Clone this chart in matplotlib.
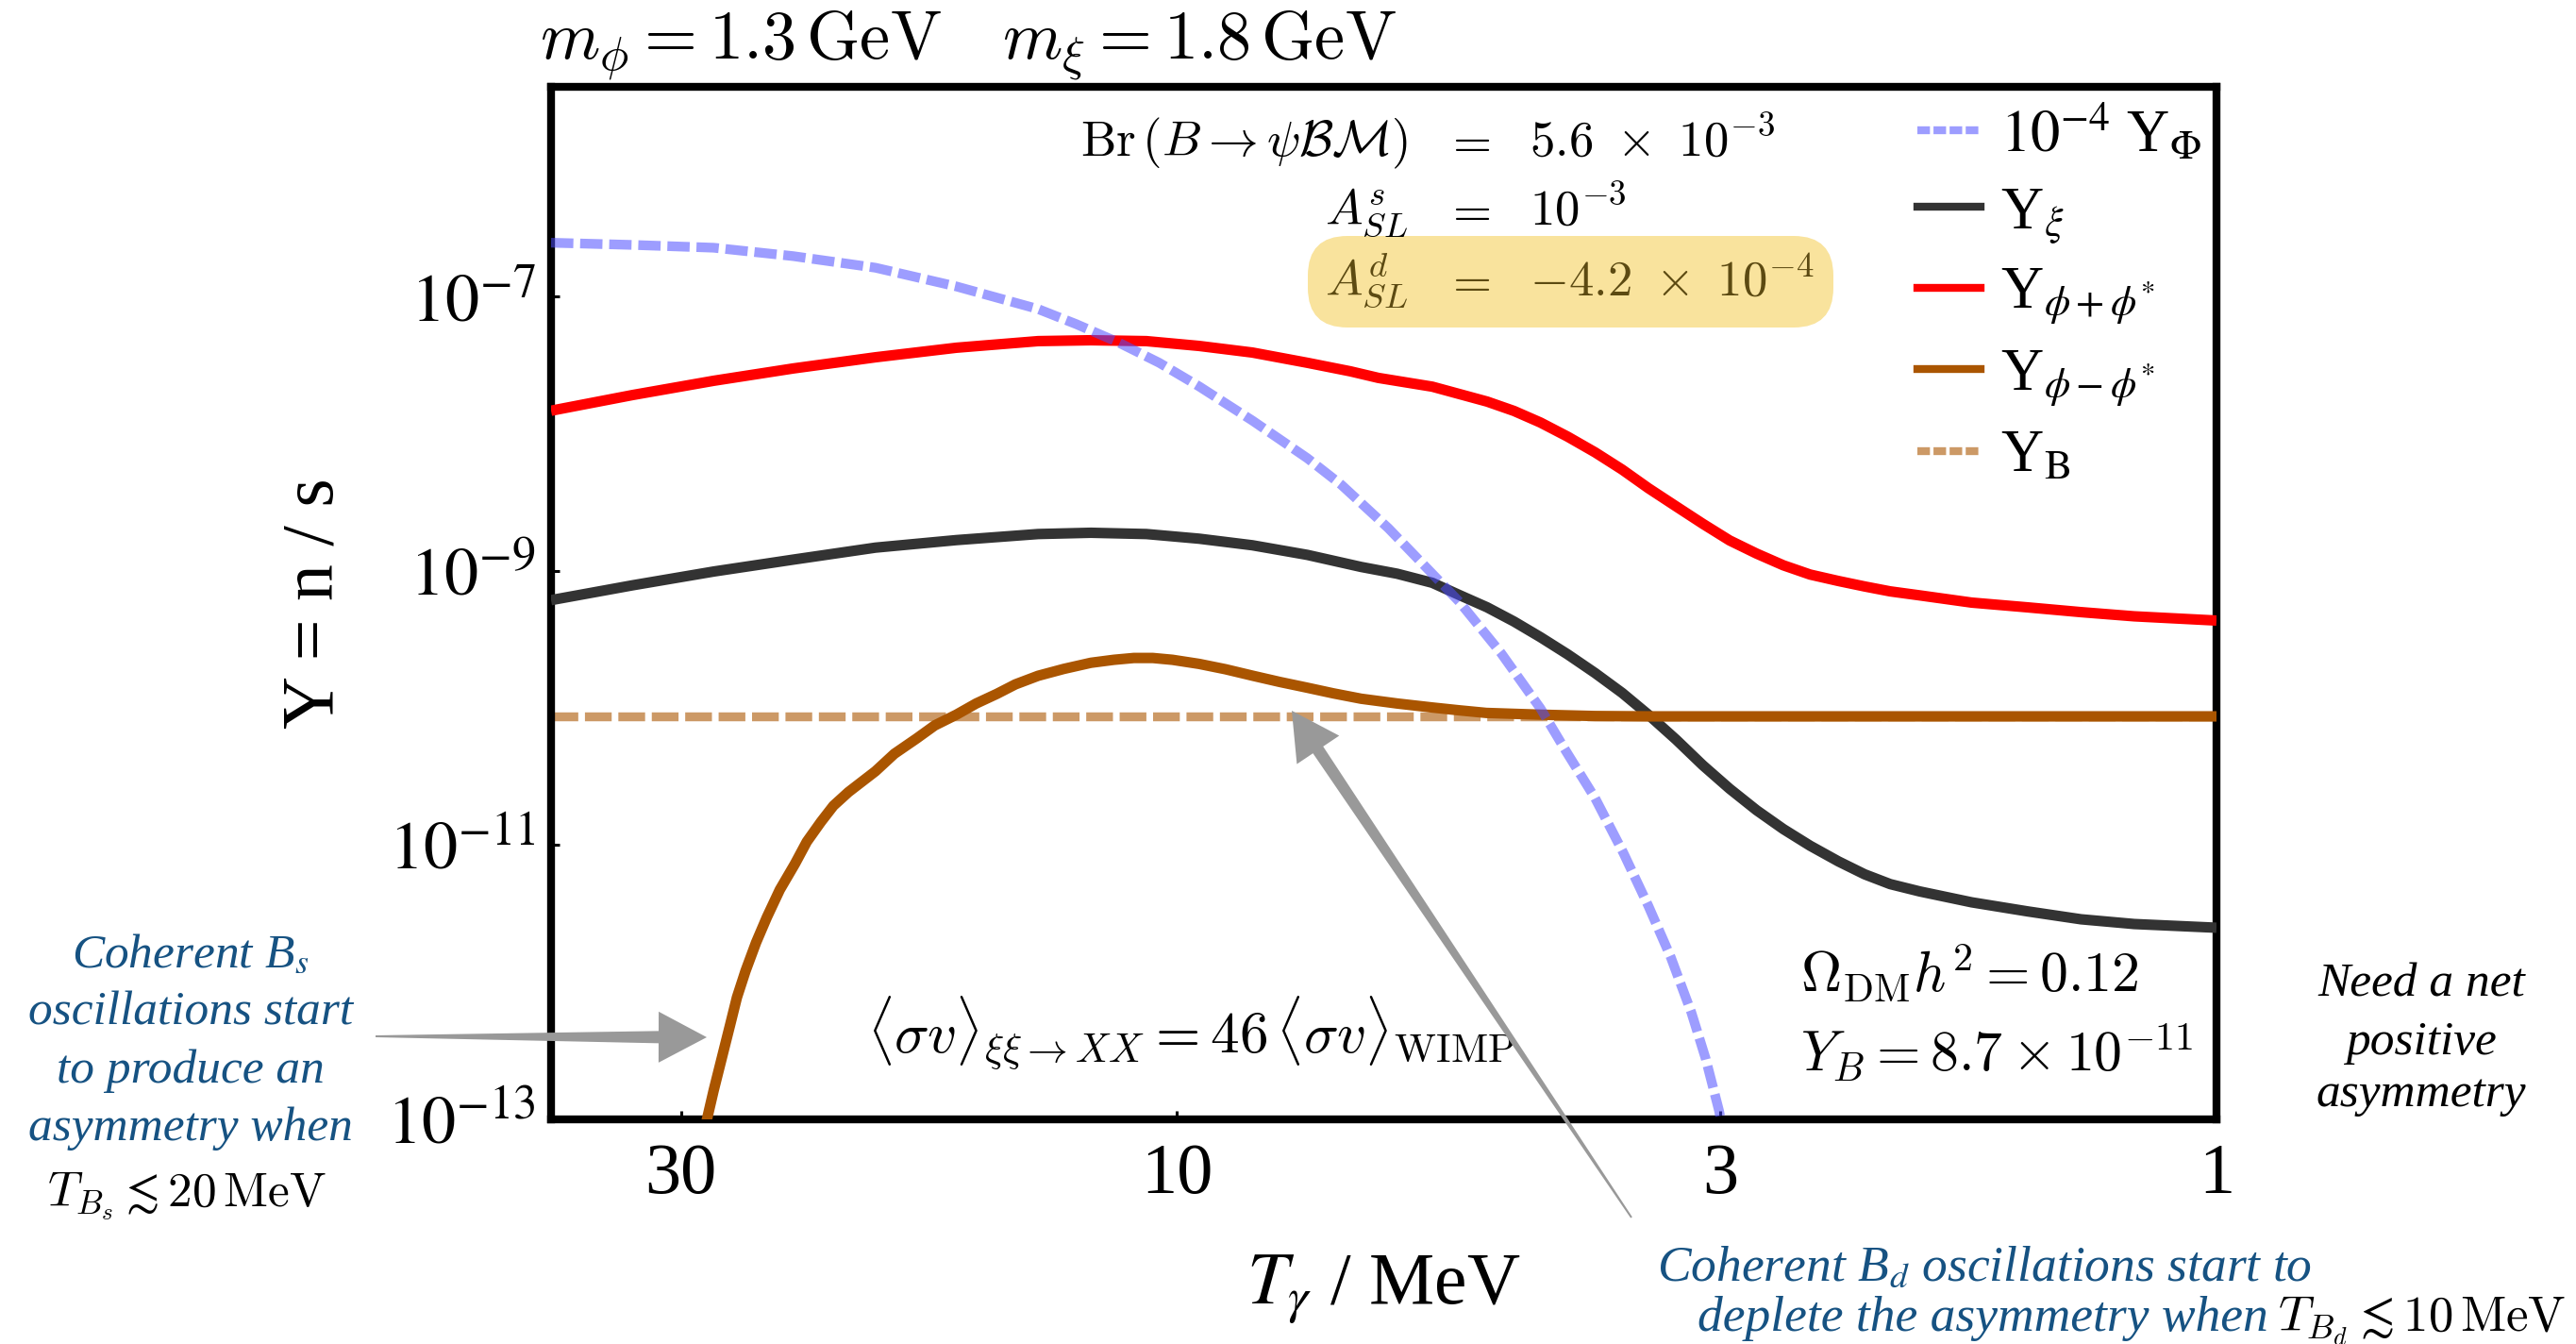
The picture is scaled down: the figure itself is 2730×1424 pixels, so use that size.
import matplotlib
matplotlib.use("Agg")
import matplotlib.pyplot as plt
from matplotlib.transforms import Affine2D
from matplotlib.patches import Polygon, FancyBboxPatch
from matplotlib.ticker import FixedLocator, FixedFormatter, NullLocator
from matplotlib.lines import Line2D
import numpy as np

# ---------------- data ----------------
# 10^-4 * Y_Phi
T_phi = [40.0, 33.4, 27.9, 23.4, 19.5, 16.3, 13.6, 12.5, 11.4, 10.4, 9.52, 8.46, 7.49,
         6.95, 6.26, 5.35, 4.88, 4.47, 4.22, 3.96, 3.72, 3.52, 3.35, 3.20, 3.10, 3.01, 2.985]
Y_phi = [2.48e-7, 2.39e-7, 2.28e-7, 1.98e-7, 1.63e-7, 1.19e-7, 8.14e-8, 6.32e-8, 4.67e-8,
         3.30e-8, 2.22e-8, 1.25e-8, 6.64e-9, 4.26e-9, 2.05e-9, 5.96e-10, 2.53e-10, 9.94e-11,
         4.79e-11, 2.20e-11, 8.78e-12, 3.61e-12, 1.53e-12, 6.02e-13, 2.77e-13, 1.16e-13, 8.4e-14]

# Y_xi
T_xi = [40.0, 33.4, 27.9, 23.4, 19.5, 16.3, 13.6, 12.1, 10.7, 9.52, 8.46, 7.49, 6.65, 6.14,
        5.68, 5.35, 5.03, 4.74, 4.47, 4.21, 3.96, 3.73, 3.52, 3.31, 3.12, 2.94, 2.77, 2.61,
        2.46, 2.31, 2.18, 2.06, 1.93, 1.72, 1.52, 1.35, 1.20, 1.0]
Y_xi = [6.13e-10, 7.86e-10, 9.91e-10, 1.21e-9, 1.48e-9, 1.68e-9, 1.86e-9, 1.90e-9, 1.86e-9,
        1.72e-9, 1.54e-9, 1.31e-9, 1.07e-9, 9.55e-10, 8.2e-10, 6.68e-10, 5.43e-10, 4.28e-10,
        3.29e-10, 2.47e-10, 1.80e-10, 1.29e-10, 8.95e-11, 5.89e-11, 3.83e-11, 2.58e-11,
        1.80e-11, 1.31e-11, 9.91e-12, 7.61e-12, 6.13e-12, 5.2e-12, 4.6e-12, 3.83e-12,
        3.29e-12, 2.88e-12, 2.66e-12, 2.50e-12]

# Y_{phi + phi*}
T_plus = [40.0, 33.4, 27.9, 23.4, 19.5, 16.3, 13.6, 12.1, 10.7, 9.52, 8.46, 7.49, 6.81,
          6.40, 5.68, 5.03, 4.74, 4.47, 4.21, 3.96, 3.73, 3.52, 3.31, 3.12, 2.94, 2.77,
          2.61, 2.46, 2.31, 2.18, 2.06, 1.93, 1.72, 1.52, 1.35, 1.20, 1.0]
Y_plus = [1.476e-8, 1.92e-8, 2.44e-8, 3.00e-8, 3.62e-8, 4.25e-8, 4.75e-8, 4.82e-8, 4.75e-8,
          4.38e-8, 3.92e-8, 3.30e-8, 2.86e-8, 2.56e-8, 2.21e-8, 1.72e-8, 1.47e-8, 1.21e-8,
          9.56e-9, 7.33e-9, 5.49e-9, 4.02e-9, 2.96e-9, 2.21e-9, 1.67e-9, 1.34e-9, 1.10e-9,
          9.42e-10, 8.45e-10, 7.71e-10, 7.10e-10, 6.64e-10, 5.88e-10, 5.43e-10, 5.01e-10,
          4.67e-10, 4.35e-10]

# Y_{phi - phi*}
T_minus = [28.8, 28.4, 27.9, 26.9, 26.5, 26.0, 25.4, 24.8, 24.1, 23.3, 22.7, 22.0, 21.4,
           20.7, 19.5, 18.7, 17.8, 17.1, 16.3, 15.6, 14.9, 14.3, 13.6, 12.85, 12.1, 11.5,
           11.0, 10.55, 10.1, 9.52, 8.98, 8.45, 7.96, 7.50, 7.07, 6.65, 6.14, 5.68, 5.35,
           5.04, 4.74, 4.47, 3.96, 3.5, 2.0, 1.0]
Y_minus = [5.5e-14, 9.14e-14, 1.63e-13, 4.91e-13, 7.76e-13, 1.21e-12, 1.95e-12, 2.98e-12,
           4.73e-12, 7.33e-12, 1.06e-11, 1.48e-11, 1.94e-11, 2.44e-11, 3.46e-11, 4.64e-11,
           6.00e-11, 7.47e-11, 8.95e-11, 1.08e-10, 1.27e-10, 1.49e-10, 1.72e-10, 1.93e-10,
           2.14e-10, 2.25e-10, 2.32e-10, 2.32e-10, 2.25e-10, 2.10e-10, 1.92e-10, 1.72e-10,
           1.55e-10, 1.41e-10, 1.28e-10, 1.17e-10, 1.08e-10, 1.01e-10, 9.63e-11, 9.22e-11,
           9.08e-11, 8.95e-11, 8.75e-11, 8.7e-11, 8.7e-11, 8.7e-11]

# Y_B (observed baryon asymmetry)
T_B = [40.0, 1.0]
Y_B = [8.7e-11, 8.7e-11]

x_ticks = [30, 10, 3, 1]
x_tick_labels = ["30", "10", "3", "1"]
y_ticks = [1e-7, 1e-9, 1e-11, 1e-13]
y_tick_labels = [r"$10^{-7}$", r"$10^{-9}$", r"$10^{-11}$", r"$10^{-13}$"]

legend_labels = [r"$10^{-4}$ Y$_{\Phi}$", r"Y$_{\xi}$", r"Y$_{\phi+\phi^{*}}$",
                 r"Y$_{\phi-\phi^{*}}$", r"Y$_{\mathrm{B}}$"]

# ---------------- style ----------------
W, H, DPI = 2730, 1424, 100
plt.rcParams['font.family'] = ['Liberation Serif', 'DejaVu Serif']
plt.rcParams['mathtext.fontset'] = 'stix'

C_PHI = '#4d4dff'
C_XI = '#333333'
C_PLUS = '#ff0000'
C_MINUS = '#aa5500'
C_BLUE_TXT = '#165282'
C_ARROW = '#999999'

fig = plt.figure(figsize=(W / DPI, H / DPI), dpi=DPI)
fig.patch.set_facecolor('white')
# pixel coordinates of the reference (origin top-left)
PX = Affine2D().scale(1.0 / W, -1.0 / H).translate(0, 1) + fig.transFigure

L, R, TOP, BOT = 584, 2349, 92, 1186
ax = fig.add_axes([L / W, 1 - BOT / H, (R - L) / W, (BOT - TOP) / H])
ax.set_xscale('log')
ax.set_yscale('log')
ax.set_xlim(40, 1)
ax.set_ylim(1e-13, 3.4e-6)

LW = 8.0
ax.plot(T_B, Y_B, color=C_MINUS, alpha=0.6, lw=6.8, dashes=(3.0, 0.75), zorder=2)
ax.plot(T_xi, Y_xi, color=C_XI, lw=LW, zorder=3, solid_capstyle='butt',
        solid_joinstyle='round')
ax.plot(T_plus, Y_plus, color=C_PLUS, lw=LW, zorder=3, solid_capstyle='butt',
        solid_joinstyle='round')
ax.plot(T_minus, Y_minus, color=C_MINUS, lw=LW, zorder=3, solid_capstyle='butt',
        solid_joinstyle='round')
ax.plot(T_phi, Y_phi, color=C_PHI, alpha=0.55, lw=7.4, dashes=(2.3, 0.7), zorder=4)

for s in ax.spines.values():
    s.set_linewidth(6)
ax.xaxis.set_major_locator(FixedLocator(x_ticks))
ax.xaxis.set_major_formatter(FixedFormatter(x_tick_labels))
ax.xaxis.set_minor_locator(NullLocator())
ax.yaxis.set_major_locator(FixedLocator(y_ticks))
ax.yaxis.set_major_formatter(FixedFormatter(y_tick_labels))
ax.yaxis.set_minor_locator(NullLocator())
ax.tick_params(which='major', direction='in', length=6.5, width=2.2, top=False, right=False)
ax.tick_params(axis='x', labelsize=55, pad=18)
ax.tick_params(axis='y', labelsize=52, pad=12)

ax.set_xlabel(r"$T_{\gamma}$ / MeV", fontsize=56)
ax.xaxis.set_label_coords(0.5, (BOT - 1328) / (BOT - TOP))
ax.set_ylabel("Y = n / s", fontsize=56)
ax.yaxis.set_label_coords((369 - L) / (R - L), 0.5)

# legend
handles = [
    Line2D([], [], color=C_PHI, alpha=0.55, lw=6, dashes=(1.6, 0.45)),
    Line2D([], [], color=C_XI, lw=6),
    Line2D([], [], color=C_PLUS, lw=6),
    Line2D([], [], color=C_MINUS, lw=6),
    Line2D([], [], color=C_MINUS, alpha=0.6, lw=6, dashes=(1.6, 0.45)),
]
ax.legend(handles, legend_labels, loc='upper left', bbox_to_anchor=(2032, 110),
          bbox_transform=PX, frameon=False, fontsize=45, handlelength=1.07,
          handletextpad=0.34, labelspacing=0.37, borderpad=0, borderaxespad=0)


# ---------------- annotations ----------------
def ftext(x, y, s, **kw):
    kw.setdefault('va', 'baseline')
    return fig.text(x, y, s, transform=PX, **kw)


# title
ftext(572, 62, r"$m_{\phi} = 1.3\,\mathrm{GeV}$", fontsize=52, math_fontfamily='cm')
ftext(1062, 62, r"$m_{\xi} = 1.8\,\mathrm{GeV}$", fontsize=52, math_fontfamily='cm')

# parameter block
box = FancyBboxPatch((1386, 250), 557, 97, boxstyle='round,pad=0,rounding_size=42',
                     transform=PX, facecolor='#f9e39d', edgecolor='none', zorder=2)
fig.add_artist(box)
EQ = dict(fontsize=38, math_fontfamily='cm')
ftext(1492, 165, r"$\mathrm{Br}\,(B \to \psi\mathcal{B}\mathcal{M})$", ha='right', **EQ)
ftext(1555, 165, r"$=$", ha='center', **EQ)
ftext(1621, 165, r"$5.6\ \times\ 10^{-3}$", ha='left', **EQ)
ftext(1492, 238, r"$A_{SL}^{s}$", ha='right', **EQ)
ftext(1555, 238, r"$=$", ha='center', **EQ)
ftext(1621, 238, r"$10^{-3}$", ha='left', **EQ)
DK = '#5c4a12'
ftext(1492, 313, r"$A_{SL}^{d}$", ha='right', color=DK, zorder=4, **EQ)
ftext(1555, 313, r"$=$", ha='center', color=DK, zorder=4, **EQ)
ftext(1621, 313, r"$-4.2\ \times\ 10^{-4}$", ha='left', color=DK, zorder=4, **EQ)

# inner annotations
ftext(919, 1115, r"$\langle\sigma v\rangle_{\xi\xi\to XX} = 46\,\langle\sigma v\rangle_{\mathrm{WIMP}}$",
      fontsize=44, math_fontfamily='cm')
ftext(1908, 1052, r"$\Omega_{\mathrm{DM}}h^2 = 0.12$", fontsize=43, math_fontfamily='cm')
ftext(1908, 1136, r"$Y_B = 8.7\times 10^{-11}$", fontsize=43, math_fontfamily='cm')

# left note
LEFT = dict(fontsize=37, style='italic', color=C_BLUE_TXT, ha='center')
ftext(202, 1025, r"Coherent B$_{s}$", **LEFT)
ftext(202, 1086, "oscillations start", **LEFT)
ftext(202, 1147, "to produce an", **LEFT)
ftext(202, 1208, "asymmetry when", **LEFT)
ftext(198, 1278, r"$T_{B_s} \lesssim 20\,\mathrm{MeV}$", fontsize=37, ha='center',
      math_fontfamily='cm')

# right note
RIGHT = dict(fontsize=37, style='italic', color='black', ha='center')
ftext(2566, 1055, "Need a net", **RIGHT)
ftext(2566, 1117, "positive", **RIGHT)
ftext(2566, 1172, "asymmetry", **RIGHT)

# bottom note
ftext(1756, 1357, r"Coherent B$_{d}$ oscillations start to", fontsize=38.5,
      style='italic', color=C_BLUE_TXT, ha='left')
ftext(1799, 1410, "deplete the asymmetry when", fontsize=38.5, style='italic',
      color=C_BLUE_TXT, ha='left')
ftext(2414, 1410, r"$T_{B_d} \lesssim 10\,\mathrm{MeV}$", fontsize=38, ha='left',
      math_fontfamily='cm')


# arrows (tapered shaft + triangular head), pixel coordinates
def taper_arrow(x0, y0, x1, y1, w0, w1, hw, hl):
    p0 = np.array([x0, y0], float)
    p1 = np.array([x1, y1], float)
    u = (p1 - p0) / np.hypot(*(p1 - p0))
    n = np.array([-u[1], u[0]])
    b = p1 - hl * u
    pts = [p0 + n * w0 / 2, b + n * w1 / 2, b + n * hw, p1, b - n * hw, b - n * w1 / 2,
           p0 - n * w0 / 2]
    poly = Polygon(pts, closed=True, transform=PX, facecolor=C_ARROW, edgecolor='none',
                   zorder=6)
    fig.add_artist(poly)


taper_arrow(398, 1098, 749, 1099, 2, 13, 27, 51)
taper_arrow(1729, 1290, 1369, 753, 2, 13, 27, 50)

fig.savefig("out.png", dpi=DPI, facecolor='white')
